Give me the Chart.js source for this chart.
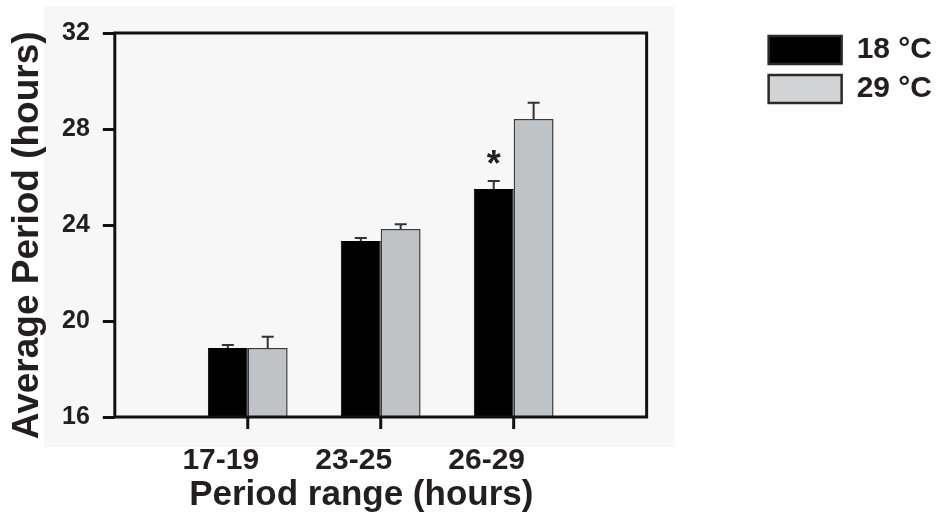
<!DOCTYPE html>
<html>
<head>
<meta charset="utf-8">
<script src="https://cdn.jsdelivr.net/npm/chart.js@4.4.1/dist/chart.umd.min.js"></script>
<style>
  html, body { margin: 0; padding: 0; background: #fff; }
  #wrap { width: 942px; height: 516px; }
</style>
</head>
<body>
<div id="wrap"><canvas id="periodChart"></canvas></div>
<script>
// period ranges (empty slots at both ends keep the bars away from the frame)
const ranges = ['', '17-19', '23-25', '26-29', ''];
const seriesNames = ['18 °C', '29 °C'];
const mean18 = [null, 18.88, 23.33, 25.5, null];
const mean29 = [null, 18.88, 23.83, 28.42, null];
const err18 = [null, 0.12, 0.13, 0.33, null];
const err29 = [null, 0.46, 0.2, 0.67, null];
const signif18 = ['', '', '', '*', ''];
const yTicks = [16, 20, 24, 28, 32];

const ink = '#231f20';
const barFill = ['#000000', '#bfc3c6'];
const legendFill = ['#000000', '#d1d3d4'];
Chart.defaults.font.family = '"Liberation Sans", Arial, sans-serif';
Chart.defaults.font.weight = 'bold';
Chart.defaults.color = ink;

// light grey panel behind the plot, black frame, and x tick marks under the real categories
const panel = {
  id: 'panel',
  beforeDraw(chart) {
    const { ctx, chartArea: a } = chart;
    ctx.save();
    ctx.fillStyle = '#f7f7f7';
    ctx.fillRect(a.left - 71, a.top - 27, a.width + 99, a.height + 57);
    ctx.restore();
  },
  afterDatasetsDraw(chart) {
    const { ctx, chartArea: a, scales: { x } } = chart;
    ctx.save();
    ctx.strokeStyle = '#111';
    ctx.lineWidth = 3;
    ctx.strokeRect(a.left, a.top, a.width, a.height);
    ctx.beginPath();
    ranges.forEach((r, i) => {
      if (!r) return;
      const px = x.getPixelForTick(i);
      ctx.moveTo(px, a.bottom);
      ctx.lineTo(px, a.bottom + 12);
    });
    ctx.stroke();
    ctx.restore();
  }
};

// error bars (upper half only) and the significance star
const errorBars = {
  id: 'errorBars',
  afterDatasetsDraw(chart) {
    const { ctx, scales: { y } } = chart;
    const errs = [err18, err29];
    const marks = [signif18, null];
    ctx.save();
    chart.data.datasets.forEach((ds, i) => {
      chart.getDatasetMeta(i).data.forEach((bar, j) => {
        const v = ds.data[j], e = errs[i][j];
        if (v == null || e == null) return;
        const top = y.getPixelForValue(v + e);
        ctx.strokeStyle = '#333';
        ctx.lineWidth = 2;
        ctx.beginPath();
        ctx.moveTo(bar.x, bar.y);
        ctx.lineTo(bar.x, top);
        ctx.moveTo(bar.x - 6, top);
        ctx.lineTo(bar.x + 6, top);
        ctx.stroke();
        if (marks[i] && marks[i][j]) {
          ctx.fillStyle = ink;
          ctx.font = 'bold 36px "Liberation Sans", Arial, sans-serif';
          ctx.textAlign = 'center';
          ctx.textBaseline = 'alphabetic';
          ctx.fillText(marks[i][j], bar.x, top - 5);
        }
      });
    });
    ctx.restore();
  }
};

new Chart(document.getElementById('periodChart'), {
  type: 'bar',
  data: {
    labels: ranges,
    datasets: [{
      label: seriesNames[0],
      data: mean18,
      backgroundColor: barFill[0],
      borderColor: '#000',
      borderWidth: 1
    }, {
      label: seriesNames[1],
      data: mean29,
      backgroundColor: barFill[1],
      borderColor: '#3a3a3a',
      borderWidth: 1.5
    }]
  },
  options: {
    responsive: true,
    maintainAspectRatio: false,
    animation: false,
    layout: { padding: { left: 0, top: 26, right: 0, bottom: 0 } },
    datasets: { bar: { categoryPercentage: 0.6, barPercentage: 1 } },
    plugins: {
      tooltip: { enabled: false },
      legend: {
        position: 'right',
        align: 'start',
        maxWidth: 260,
        labels: {
          boxWidth: 73,
          boxHeight: 28,
          padding: 9,
          color: ink,
          font: { size: 30, weight: 'bold' },
          generateLabels: (chart) =>
            Chart.defaults.plugins.legend.labels.generateLabels(chart)
              .map((item, i) => ({ ...item, fillStyle: legendFill[i], strokeStyle: '#2a2a2a', lineWidth: 2.5 }))
        }
      }
    },
    scales: {
      x: {
        offset: false,
        border: { display: false },
        grid: {
          offset: false,
          drawOnChartArea: false,
          tickLength: 12,
          color: 'rgba(0,0,0,0)',
          tickColor: 'rgba(0,0,0,0)'
        },
        ticks: {
          maxRotation: 0,
          autoSkip: false,
          padding: 16.5,
          labelOffset: -27,
          color: ink,
          font: { size: 30, weight: 'bold', lineHeight: 1 }
        },
        title: {
          display: true,
          text: 'Period range (hours)\u00a0\u00a0\u00a0\u00a0',
          color: ink,
          font: { size: 35, weight: 'bold', lineHeight: 1 },
          padding: { top: -14.5, bottom: 3.5 }
        }
      },
      y: {
        min: 16,
        max: 32,
        afterBuildTicks: (s) => { s.ticks = yTicks.map(v => ({ value: v })); },
        border: { display: false },
        grid: {
          drawOnChartArea: false,
          tickLength: 12,
          lineWidth: 3,
          tickWidth: 3,
          color: '#111',
          tickColor: '#111'
        },
        ticks: {
          padding: 13,
          color: ink,
          font: { size: 25, weight: 'bold', lineHeight: 1.6 }
        },
        title: {
          display: true,
          text: 'Average Period (hours)\u00a0\u00a0',
          color: ink,
          font: { size: 37, weight: 'bold', lineHeight: 1 },
          padding: { top: 9, bottom: 3 }
        }
      },
      gap: {
        position: 'right',
        min: 0,
        max: 1,
        grid: { display: false },
        border: { display: false },
        ticks: { display: false },
        afterFit: (s) => { s.width = 113; }
      }
    }
  },
  plugins: [panel, errorBars]
});
</script>
</body>
</html>
